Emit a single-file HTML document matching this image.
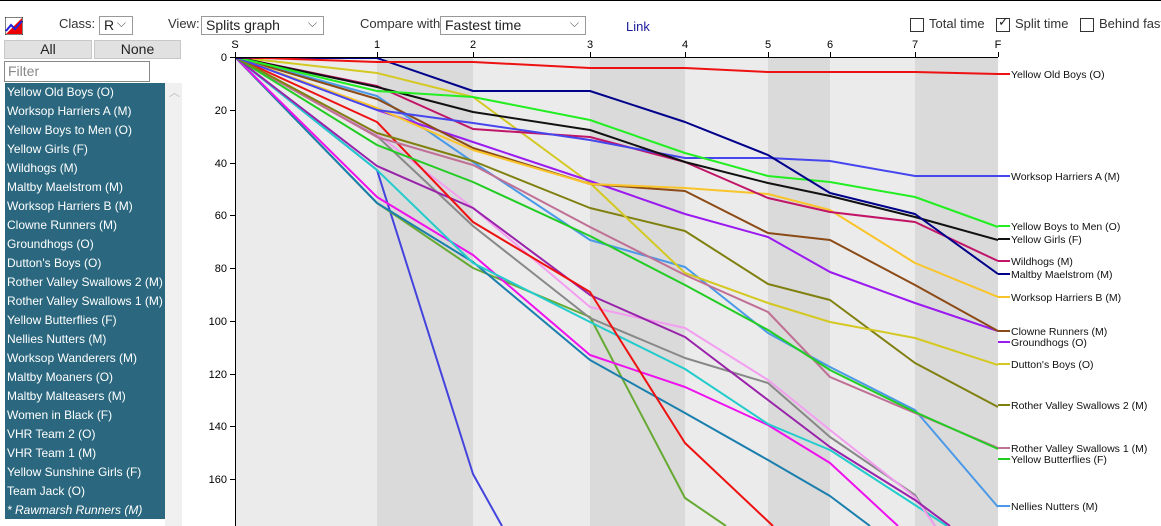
<!DOCTYPE html>
<html><head><meta charset="utf-8"><style>
body{margin:0;width:1161px;height:526px;overflow:hidden;background:#fff;font-family:"Liberation Sans",Arial,sans-serif;font-size:13px;color:#222;position:relative}
.a{position:absolute}
.sel{position:absolute;border:1px solid #999;background:#fff;height:19px;box-sizing:border-box;font-size:14px;line-height:17px;padding-left:4px}
.sel:after{content:"⌵";position:absolute;right:6px;top:-2px;font-size:12px;color:#555}
.btn{position:absolute;top:40px;height:19px;background:#e1e1e1;border:1px solid #c8c8c8;box-sizing:border-box;text-align:center;font-size:14px;line-height:17px}
.list{position:absolute;left:5px;top:83px;width:160px;height:436px;background:#2b687f;overflow:hidden}
.list div{height:19px;line-height:19px;color:#fff;font-size:12px;padding-left:2px;white-space:nowrap}
.cb{position:absolute;top:18px;width:12px;height:12px;border:1px solid #333;background:#fff}
.lbl{position:absolute;top:16px;font-size:13px;color:#333;white-space:nowrap}
</style></head><body>
<div class="a" style="left:0;top:0;width:1161px;height:1px;background:#000"></div>
<svg class="a" style="left:5px;top:17px" width="18" height="18"><rect x="0" y="0" width="18" height="18" fill="#fff" stroke="#000"/><polygon points="1,17 17,1 17,17" fill="#e00"/><polyline points="1,14 6,8 10,12 17,4" fill="none" stroke="#22d" stroke-width="2"/></svg>
<div class="lbl" style="left:59px">Class:</div>
<div class="sel" style="left:99px;top:16px;width:34px">R</div>
<div class="lbl" style="left:168px">View:</div>
<div class="sel" style="left:201px;top:16px;width:123px">Splits graph</div>
<div class="lbl" style="left:360px">Compare with</div>
<div class="sel" style="left:440px;top:16px;width:146px">Fastest time</div>
<div class="lbl" style="left:626px;top:19px;color:#1a1a9a">Link</div>
<div class="cb" style="left:910px"></div><div class="lbl" style="left:929px">Total time</div>
<div class="cb" style="left:996px"></div><div class="a" style="left:998px;top:14px;font-size:13px">✓</div><div class="lbl" style="left:1015px">Split time</div>
<div class="cb" style="left:1080px"></div><div class="lbl" style="left:1099px">Behind fast</div>
<div class="btn" style="left:4px;width:88px">All</div>
<div class="btn" style="left:94px;width:87px">None</div>
<div class="a" style="left:4px;top:61px;width:146px;height:21px;border:1px solid #888;box-sizing:border-box;color:#888;font-size:14px;line-height:19px;padding-left:3px">Filter</div>
<div class="a" style="left:165px;top:83px;width:17px;height:443px;background:#f0f0f0"></div>
<div class="a" style="left:169px;top:84px;color:#bbb;font-size:11px">︿</div>
<div class="list">
<div>Yellow Old Boys (O)</div><div>Worksop Harriers A (M)</div><div>Yellow Boys to Men (O)</div><div>Yellow Girls (F)</div><div>Wildhogs (M)</div><div>Maltby Maelstrom (M)</div><div>Worksop Harriers B (M)</div><div>Clowne Runners (M)</div><div>Groundhogs (O)</div><div>Dutton's Boys (O)</div><div>Rother Valley Swallows 2 (M)</div><div>Rother Valley Swallows 1 (M)</div><div>Yellow Butterflies (F)</div><div>Nellies Nutters (M)</div><div>Worksop Wanderers (M)</div><div>Maltby Moaners (O)</div><div>Maltby Malteasers (M)</div><div>Women in Black (F)</div><div>VHR Team 2 (O)</div><div>VHR Team 1 (M)</div><div>Yellow Sunshine Girls (F)</div><div>Team Jack (O)</div><div style="font-style:italic">* Rawmarsh Runners (M)</div>
</div>
<svg class="a" style="left:0;top:0" width="1161" height="526" font-family="Liberation Sans,Arial,sans-serif" font-size="11">
<defs><clipPath id="c"><rect x="235" y="57" width="763" height="469"/></clipPath></defs>
<rect x="235" y="57" width="142" height="469" fill="#ebebeb"/>
<rect x="377" y="57" width="96" height="469" fill="#dadada"/>
<rect x="473" y="57" width="117" height="469" fill="#ebebeb"/>
<rect x="590" y="57" width="95" height="469" fill="#dadada"/>
<rect x="685" y="57" width="83" height="469" fill="#ebebeb"/>
<rect x="768" y="57" width="62" height="469" fill="#dadada"/>
<rect x="830" y="57" width="85" height="469" fill="#ebebeb"/>
<rect x="915" y="57" width="83" height="469" fill="#dadada"/>
<g clip-path="url(#c)" fill="none" stroke-width="2" stroke-linejoin="round">
<polyline stroke="#4444dd" points="235,57 377,170 473,474 502,526"/>
<polyline stroke="#66aa33" points="235,57 377,203 473,268 590,317 685,498 726,526"/>
<polyline stroke="#1b7fae" points="235,57 377,203 473,262 590,360 685,413 768,460 830,496 870,526"/>
<polyline stroke="#ee11ee" points="235,57 377,197 473,255 590,355 685,387 768,425 830,463 898,526"/>
<polyline stroke="#22cccc" points="235,57 377,170 473,263 590,322 685,369 768,424 830,450 915,505 947,526"/>
<polyline stroke="#888888" points="235,57 377,136 473,226 590,318 685,358 768,383 830,437 915,495 935,526"/>
<polyline stroke="#f39ef0" points="235,57 377,134 473,208 590,307 685,328 768,380 830,430 915,497 935,526"/>
<polyline stroke="#9922aa" points="235,57 377,166 473,208 590,295 685,337 768,400 830,447 915,500 950,526"/>
<polyline stroke="#ee1111" points="235,57 377,122 473,222 590,292 685,443 773,526"/>
<polyline stroke="#4a99e8" points="235,57 377,96 473,162 590,240 685,267 768,333 830,367 915,410 998,507"/>
<polyline stroke="#c06f95" points="235,57 377,137 473,165 590,227 685,275 768,312 830,377 915,413 998,448"/>
<polyline stroke="#22cc22" points="235,57 377,145 473,182 590,236 685,285 768,330 830,370 915,412 998,449"/>
<polyline stroke="#808010" points="235,57 377,133 473,161 590,208 685,231 768,284 830,300 915,363 998,407"/>
<polyline stroke="#d4c823" points="235,57 377,73 473,97 590,183 685,273 768,303 830,322 915,338 998,365"/>
<polyline stroke="#9a1af0" points="235,57 377,110 473,142 590,181 685,214 768,237 830,272 915,303 998,331"/>
<polyline stroke="#8b4a16" points="235,57 377,99 473,148 590,184 685,191 768,233 830,240 915,285 998,331"/>
<polyline stroke="#f9c42a" points="235,57 377,108 473,150 590,184 685,188 768,194 830,210 915,263 998,297"/>
<polyline stroke="#c01568" points="235,57 377,86 473,129 590,137 685,162 768,198 830,212 915,222 998,261"/>
<polyline stroke="#4646ee" points="235,57 377,110 473,123 590,140 685,158 768,158 830,161 915,176 998,176"/>
<polyline stroke="#111111" points="235,57 377,87 473,112 590,130 685,162 768,183 830,196 915,217 998,240"/>
<polyline stroke="#22ee22" points="235,57 377,91 473,97 590,120 685,153 768,176 830,182 915,197 998,227"/>
<polyline stroke="#00008b" points="235,58 377,58 473,91 590,91 685,122 768,155 830,193 915,214 998,274"/>
<polyline stroke="#ee1111" points="235,57 377,62 473,62 590,68 685,68 768,72 830,72 915,72 998,74"/>
</g>
<g stroke="#000" stroke-width="1">
<line x1="235" y1="57.5" x2="998" y2="57.5"/><line x1="235.5" y1="52" x2="235.5" y2="526"/>
<line x1="377.5" y1="52" x2="377.5" y2="57"/><line x1="473.5" y1="52" x2="473.5" y2="57"/><line x1="590.5" y1="52" x2="590.5" y2="57"/><line x1="685.5" y1="52" x2="685.5" y2="57"/><line x1="768.5" y1="52" x2="768.5" y2="57"/><line x1="830.5" y1="52" x2="830.5" y2="57"/><line x1="915.5" y1="52" x2="915.5" y2="57"/><line x1="998.5" y1="52" x2="998.5" y2="57"/>
<line x1="230" y1="57.5" x2="235" y2="57.5"/><line x1="230" y1="110.5" x2="235" y2="110.5"/><line x1="230" y1="163.5" x2="235" y2="163.5"/><line x1="230" y1="215.5" x2="235" y2="215.5"/><line x1="230" y1="268.5" x2="235" y2="268.5"/><line x1="230" y1="321.5" x2="235" y2="321.5"/><line x1="230" y1="374.5" x2="235" y2="374.5"/><line x1="230" y1="426.5" x2="235" y2="426.5"/><line x1="230" y1="479.5" x2="235" y2="479.5"/>
</g>
<g fill="#000" text-anchor="middle"><text x="235" y="48">S</text><text x="377" y="48">1</text><text x="473" y="48">2</text><text x="590" y="48">3</text><text x="685" y="48">4</text><text x="768" y="48">5</text><text x="830" y="48">6</text><text x="915" y="48">7</text><text x="998" y="48">F</text></g>
<g fill="#000" text-anchor="end"><text x="227" y="61">0</text><text x="227" y="114">20</text><text x="227" y="167">40</text><text x="227" y="219">60</text><text x="227" y="272">80</text><text x="227" y="325">100</text><text x="227" y="378">120</text><text x="227" y="430">140</text><text x="227" y="483">160</text></g>
<g stroke-width="2">
<line x1="998" y1="74" x2="1010" y2="74" stroke="#ee1111"/><line x1="998" y1="176" x2="1010" y2="176" stroke="#4646ee"/><line x1="998" y1="226" x2="1010" y2="226" stroke="#22ee22"/><line x1="998" y1="239" x2="1010" y2="239" stroke="#111"/><line x1="998" y1="261" x2="1010" y2="261" stroke="#c01568"/><line x1="998" y1="274" x2="1010" y2="274" stroke="#00008b"/><line x1="998" y1="297" x2="1010" y2="297" stroke="#f9c42a"/><line x1="998" y1="331" x2="1010" y2="331" stroke="#8b4a16"/><line x1="998" y1="342" x2="1010" y2="342" stroke="#9a1af0"/><line x1="998" y1="364" x2="1010" y2="364" stroke="#d4c823"/><line x1="998" y1="405" x2="1010" y2="405" stroke="#808010"/><line x1="998" y1="448" x2="1010" y2="448" stroke="#c06f95"/><line x1="998" y1="459" x2="1010" y2="459" stroke="#22cc22"/><line x1="998" y1="506" x2="1010" y2="506" stroke="#4a99e8"/>
</g>
<g fill="#111" font-size="10.5">
<text x="1011" y="78">Yellow Old Boys (O)</text><text x="1011" y="180">Worksop Harriers A (M)</text><text x="1011" y="230">Yellow Boys to Men (O)</text><text x="1011" y="243">Yellow Girls (F)</text><text x="1011" y="265">Wildhogs (M)</text><text x="1011" y="278">Maltby Maelstrom (M)</text><text x="1011" y="301">Worksop Harriers B (M)</text><text x="1011" y="335">Clowne Runners (M)</text><text x="1011" y="346">Groundhogs (O)</text><text x="1011" y="368">Dutton's Boys (O)</text><text x="1011" y="409">Rother Valley Swallows 2 (M)</text><text x="1011" y="452">Rother Valley Swallows 1 (M)</text><text x="1011" y="463">Yellow Butterflies (F)</text><text x="1011" y="510">Nellies Nutters (M)</text>
</g>
</svg>
</body></html>
